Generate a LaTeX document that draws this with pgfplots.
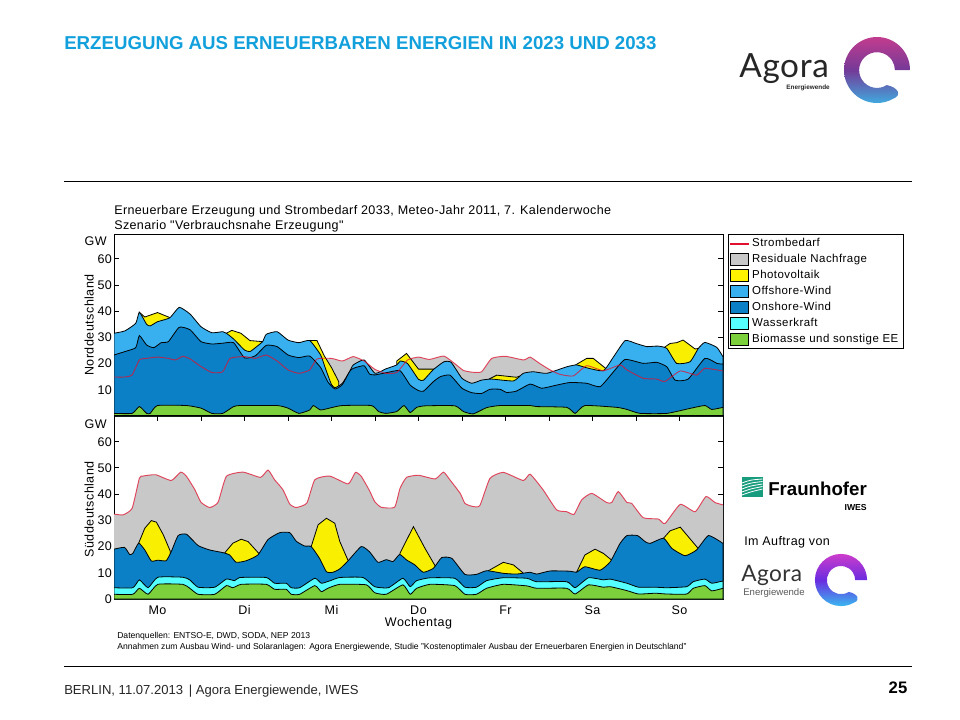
\documentclass[border=0pt]{standalone}
\usepackage{fontspec}
\setmainfont{Liberation Sans}
\newfontfamily\cf[LetterSpace=4]{Liberation Sans}
\newfontfamily\cft[LetterSpace=3]{Liberation Sans}
\newfontfamily\lf[LetterSpace=2]{Lato}
\usepackage{pgfplots}
\pgfplotsset{compat=1.18}

\definecolor{headblue}{HTML}{12A0DC}
\definecolor{grey}{HTML}{C8C8C8}
\definecolor{pv}{HTML}{F8F000}
\definecolor{offshore}{HTML}{38B0F0}
\definecolor{onshore}{HTML}{0C80C6}
\definecolor{wasser}{HTML}{55FFFF}
\definecolor{bio}{HTML}{7CD03C}
\definecolor{demand}{HTML}{E0102E}
\definecolor{fhgreen}{HTML}{179C7D}

\newcommand{\lgbox}[1]{\addlegendimage{legend image code/.code={\draw[fill=#1,draw=black,line width=0.75pt] (0pt,-4.5pt) rectangle (13.5pt,4.5pt);}}}

\pgfplotsset{panel/.style={
    scale only axis,
    width=456.75pt,
    xmin=0, xmax=168,
    ymin=0,
    axis line style={line width=0.75pt},
    tick style={black,line width=0.75pt,major tick length=3.75pt},
    tick align=inside,
    ytick pos=both,
    ytick={10,20,...,60},
    ticklabel style={font=\cf\fontsize{9.4pt}{11pt}\selectfont},
    /pgf/number format/assume math mode=true,
    yticklabel style={xshift=2pt},
    label style={font=\cf\fontsize{9.4pt}{11pt}\selectfont},
},
    pvarea/.style={fill=#1,draw=black,line width=0.6pt,forget plot},
    stackarea/.style={smooth,tension=0.3,fill=#1,draw=black,line width=0.6pt,forget plot},
    resid/.style={smooth,tension=0.3,fill=grey,draw=none,forget plot},
    dem/.style={smooth,tension=0.3,color=demand,opacity=0.75,line width=0.7pt,forget plot},
}

\begin{document}
\begin{tikzpicture}
\path[use as bounding box] (0,0) rectangle (720pt,-540pt);

% Norddeutschland
\begin{axis}[panel,
    at={(85.5pt,-312pt)}, anchor=south west,
    height=136.5pt, ymax=69.5,
    xtick=\empty,
    ylabel={Norddeutschland},
    y label style={at={(axis description cs:-0.041,0.5)},anchor=center},
    legend style={at={(1.0082,1)},anchor=north west,draw=black,line width=0.75pt,
        inner xsep=1.5pt,inner ysep=1pt,row sep=0.25pt,
        font=\cf\fontsize{8.6pt}{10pt}\selectfont,
        cells={anchor=west},/tikz/every even column/.append style={column sep=1pt}},
]
\addplot[resid] coordinates {
 (0,14.9)(3,14.9)(5,15.7)(7,21.4)(9,22)(12,22.5)(15,22)(17,21.4)(19,22.8)(21,21.8)(24,18.9)(27,16.6)(30,16.9)(32,22)(36,22.7)(39,22)(42,23.3)(45,21)(48,17.6)(51,16.3)(54,17.6)(56,21.8)(60,22)(63,21)(66,22.7)(69,21)(72,17.8)(75,16.3)(78,16.6)(81,21.4)(84,22.5)(87,21.6)(91,22.9)(94,20)(96.4,17.4)(99,16.7)(101.4,16.9)(104.2,22)(108,22.8)(113,21.4)(114.8,22.5)(117.5,20)(120.3,17.6)(123,15.9)(126.7,15.3)(130.4,19.2)(135,17.3)(139.6,19.5)(141.5,17.6)(146,14.4)(149.7,14.1)(152,13.2)(156.2,17.2)(160.7,15.6)(163,18.2)(168,17.2)
} \closedcycle;
\addplot[pvarea=pv] coordinates {
 (7,0)(7,39.6)(8.5,37.8)(12,39.5)(15.4,37.6)(15.4,0)
 (31,0)(31,31.6)(32.5,32.7)(35,31.6)(37.5,28.8)(41,28.4)(41,0)
 (54,0)(54,28.8)(56,28.8)(58,23)(60,18.5)(62,13.1)(62,0)
 (78,0)(78,21)(80.7,23.9)(84,17.9)(88.6,17.9)(88.6,0)
 (103.3,0)(103.3,14)(105.6,15.6)(111,14.8)(112.5,15.5)(112.5,0)
 (127.2,0)(127.2,19.4)(130.4,22)(132.2,22)(135.9,17.9)(136,0)
 (151.6,0)(151.6,26)(153.4,27.7)(155.2,28)(157,29)(160.3,25.6)(161.2,25.8)(161.2,0)
} \closedcycle;
\addplot[stackarea=offshore] coordinates {
 (0,31.6)(3,32.5)(6,35.4)(7,39.6)(9,35)(10,34.4)(12,36)(15.4,37.5)(18,41.5)(21,38.9)(24,34.1)(27,31.8)(30,32.2)(31,31.6)(33,29.4)(36,25.2)(37.5,24.6)(39,26.1)(41,28.4)(42,31.2)(45,32.2)(48,29)(51,28)(54,28.8)(57,23.3)(58.5,17.5)(60,12)(61,10.8)(63,12.5)(65,17)(66,19.5)(69,21.4)(72,16.3)(75,18)(78,19.5)(79,21)(81,20)(84,14)(85.4,13.7)(88,17.6)(91,20.7)(93,20.5)(96,14.4)(98.7,12.5)(101.4,13.7)(104.2,14.1)(110.2,13.4)(112.9,16.3)(115.7,16.9)(119.4,16.3)(124.9,18.8)(127.6,19.5)(130.4,18.4)(135,17.3)(137.8,22.6)(141,28.8)(144,27.7)(147,26.5)(150,26.7)(152.5,25.8)(155.2,20.1)(158.9,20.7)(161.2,25.8)(163,28.1)(166.3,26.2)(168,22.6)
} \closedcycle;
\addplot[stackarea=onshore] coordinates {
 (0,23.3)(3,24.6)(6,26.1)(7,30.7)(9,27.1)(11,26.1)(13,28)(15,28.4)(18,33.9)(21,32.9)(24,28.4)(27,27.5)(30,27.8)(33,28)(36,22.2)(39,23)(42,27)(45,26.5)(48,23.3)(51,22.3)(54,22.9)(57,18.5)(59,13)(61,10.3)(63,12)(65,17)(66,18.2)(69,19.2)(70.5,16)(72,15.7)(75,16.5)(78.9,17.3)(81.7,11.8)(84,9.7)(85.4,9.5)(88.1,13.1)(90,15)(92.7,15.6)(96,10.6)(98.7,8.9)(101.4,8.6)(103.7,10.2)(106.5,10.2)(108.3,9)(111,9.5)(114.8,12.2)(118,10.6)(122.1,11.8)(125.8,12.8)(130.4,12.5)(134.1,11.2)(137.8,16.9)(141,21.6)(146,20.1)(149.7,20.5)(152.5,18.8)(154.8,13.7)(158.4,14.1)(163,22)(166.3,20.1)(168,19.8)
} \closedcycle;
\addplot[stackarea=bio] coordinates {
 (0,1)(5,1)(7,3.6)(9,1)(10,1)(12,4)(20,4)(24,3)(27,1)(30,1)(33,3.6)(35,4)(45,4)(48,3)(51,1)(54,2.3)(55,4)(57,2.3)(60,3.2)(63,4)(71,4)(73,1.7)(75,1)(78,1.7)(80,4)(81.7,1.3)(83.5,3.3)(86,3.9)(94,3.9)(96.4,1.7)(99.1,0.8)(102.8,3.2)(106.5,4)(114.8,4)(116.6,3.6)(124.9,3.3)(127.2,1)(129.9,4)(138.7,3.3)(141.5,2.5)(145.1,1)(152.5,1)(158.9,2.9)(163,4)(164.9,2.5)(168,3.3)
} \closedcycle;
\addplot[dem] coordinates {
 (0,14.9)(3,14.9)(5,15.7)(7,21.4)(9,22)(12,22.5)(15,22)(17,21.4)(19,22.8)(21,21.8)(24,18.9)(27,16.6)(30,16.9)(32,22)(36,22.7)(39,22)(42,23.3)(45,21)(48,17.6)(51,16.3)(54,17.6)(56,21.8)(60,22)(63,21)(66,22.7)(69,21)(72,17.8)(75,16.3)(78,16.6)(81,21.4)(84,22.5)(87,21.6)(91,22.9)(94,20)(96.4,17.4)(99,16.7)(101.4,16.9)(104.2,22)(108,22.8)(113,21.4)(114.8,22.5)(117.5,20)(120.3,17.6)(123,15.9)(126.7,15.3)(130.4,19.2)(135,17.3)(139.6,19.5)(141.5,17.6)(146,14.4)(149.7,14.1)(152,13.2)(156.2,17.2)(160.7,15.6)(163,18.2)(168,17.2)
};
\addlegendimage{legend image code/.code={\fill[demand] (0pt,-0.45pt) rectangle (13.5pt,0.45pt);}}
\addlegendentry{Strombedarf}
\lgbox{grey}\addlegendentry{Residuale Nachfrage}
\lgbox{yellow}\addlegendentry{Photovoltaik}
\lgbox{offshore}\addlegendentry{Offshore-Wind}
\lgbox{onshore}\addlegendentry{Onshore-Wind}
\lgbox{wasser}\addlegendentry{Wasserkraft}
\lgbox{bio}\addlegendentry{Biomasse und sonstige EE}
\end{axis}

% Sueddeutschland
\begin{axis}[panel,
    at={(85.5pt,-449.25pt)}, anchor=south west,
    height=137.25pt, ymax=69.8,
    xtick={12,24,...,156},
    xticklabels={Mo,,Di,,Mi,,Do,,Fr,,Sa,,So},
    x tick label style={text height=6.8pt,text depth=0pt,yshift=-1pt},
    xtick pos=both,
    ytick={0,10,...,60},
    ylabel={Süddeutschland},
    y label style={at={(axis description cs:-0.041,0.489)},anchor=center},
    xlabel={Wochentag},
    x label style={at={(axis description cs:0.5,-0.133)},anchor=center},
]
\addplot[resid] coordinates {
 (0,32.4)(2.5,32.1)(5,34.6)(7,46.1)(8,46.9)(11.5,47.4)(15.8,45.2)(18.4,48.4)(20,46.8)(22.3,41.7)(24,36.9)(26.4,34.9)(28.7,36.9)(31,46.8)(35.6,48.4)(40.4,46.4)(42.5,49.2)(44.3,45.5)(46.6,41.7)(48.5,36.2)(50.3,34.9)(53.2,36.6)(55.4,45.5)(59.5,46.9)(64.6,43.9)(66.6,48.3)(68.2,46.8)(70.5,41.3)(71.9,37.2)(73.7,35)(77.4,35)(78.9,42.2)(80.7,46.4)(84,47.2)(88.6,45.8)(90.9,48.4)(92.7,45.4)(95.5,40.3)(96.8,36.5)(98.7,35.4)(100.9,35.6)(103.7,46)(107.4,48.3)(112.9,45.2)(114.8,47.6)(118.4,41.6)(122.1,34)(124.9,33.3)(126.9,32.3)(129,37.8)(131.8,40.3)(135.9,36.8)(137.3,36.8)(139.1,41)(141.5,36.8)(142.8,36.5)(146,31)(150.2,30.5)(152,28.8)(156.2,36.1)(160.3,33.3)(163.3,39.1)(165.8,36.8)(168,35.9)
} \closedcycle;
\addplot[pvarea=pv] coordinates {
 (6.8,0)(6.8,21.3)(8.5,27)(10.3,29.9)(11.7,29.3)(13.6,24.5)(15.5,18.3)(15.5,0)
 (30.5,0)(30.5,17.5)(32.8,21.3)(35.1,22.8)(37,21.9)(40.2,17)(40.2,0)
 (54.4,0)(54.4,20)(56.3,28.3)(58.6,30.8)(60.9,28.9)(62.3,21.9)(64.6,14.6)(64.6,0)
 (78.9,0)(78.9,17.5)(82.6,27.6)(85.8,19.3)(88.6,12.6)(88.6,0)
 (103.3,0)(103.3,10.8)(107.4,14)(110.2,13)(112.8,10)(112.8,0)
 (127.6,0)(127.6,10.2)(129.9,16.8)(132.7,19)(135,17.4)(137.3,14.8)(137.3,0)
 (151.6,0)(151.6,23.2)(153.4,26)(156.2,27.4)(158.4,23.8)(161.2,19.2)(161.2,0)
} \closedcycle;
\addplot[stackarea=onshore] coordinates {
 (0,19)(2.9,19.7)(4.3,17)(5.2,17.4)(6.8,21.3)(8.5,18.7)(10.3,14.5)(12.1,14.8)(14.4,14.6)(15.8,18.1)(17.7,24.2)(20,24.7)(23.2,20.4)(26.4,18.7)(30,17.7)(31.9,16.8)(33.7,14)(36.5,14.6)(39.7,16.8)(42.5,22.7)(45.7,25.3)(48.5,25.3)(50.3,22)(52.6,20.2)(54.4,20)(56.7,15.5)(58.6,10.4)(60.4,10.2)(62.3,11.5)(64.6,14.6)(68.2,20)(70.5,18)(72.8,14)(75.1,15)(77,14.3)(78.8,17)(80.7,14.9)(83,13)(85.3,10.2)(88.1,11.7)(90.4,15.8)(93.2,15.5)(96.8,9.4)(100,9.4)(102.8,10.8)(107.4,9.8)(111,9.5)(114.8,10.2)(116.6,9.5)(120.3,10.7)(125.8,10.6)(127.6,10.2)(129.9,12.3)(134.1,11)(136.9,14.2)(139.6,21.2)(141.5,24.2)(144.4,24.2)(146.5,21.9)(147.9,21.2)(151.6,23.2)(153.9,19.3)(157.5,16.5)(160.7,18.7)(164,24.2)(168,21.2)
} \closedcycle;
\addplot[stackarea=wasser] coordinates {
 (0,4.3)(5.2,4.3)(7,7.3)(9.4,4.3)(12.1,8.3)(19,8.3)(20.9,7.3)(23.2,4.5)(27.8,4.5)(31,7.6)(33.3,7)(34.7,8.2)(42,8.2)(44.3,6)(47.5,6)(48.9,4.3)(51.2,4.3)(55.4,7.9)(57.2,6)(59.5,6.9)(62.3,8.2)(68.7,8.2)(71.9,4.7)(75.7,4.3)(79.7,7.9)(81.7,4.7)(83.5,7)(87.2,8.1)(94,7.9)(96.8,4.5)(100,4.5)(102.8,7)(107.4,8.1)(113.9,7.9)(116.6,6.6)(124.9,6.6)(127.2,4.3)(130.9,8.1)(135,7.3)(136.9,7.6)(141.5,6)(144.7,4.5)(149.3,4.5)(152.5,4.3)(158,4.7)(159.8,6.6)(163,7.6)(164.9,6)(168,6.9)
} \closedcycle;
\addplot[stackarea=bio] coordinates {
 (0,1.8)(5.2,1.8)(7,4.1)(9.4,1.8)(12.1,5.6)(19,5.6)(20.9,4.1)(23.2,1.8)(27.8,1.8)(31,5.1)(32.8,4.3)(35.1,5.6)(42,5.6)(44.3,3.7)(47.5,3.7)(48.9,1.8)(51.2,1.8)(55.4,5.1)(57.2,2.8)(59,4.1)(62.3,5.6)(69.6,5.4)(71.9,2.4)(75.1,1.8)(79.7,5.4)(81.7,1.8)(83.5,4.1)(87.2,5.6)(94,5.1)(96.8,1.8)(100,1.8)(102.8,4.1)(107.4,5.6)(113.9,5)(116.6,4.1)(124.9,4.1)(127.2,1.9)(130.9,5.4)(135,4.5)(136.9,4.7)(141.5,3.2)(144.7,1.9)(149.3,2.2)(152.5,1.9)(158,1.9)(159.8,4.1)(163,5.1)(164.9,3.1)(168,4.1)
} \closedcycle;
\addplot[dem] coordinates {
 (0,32.4)(2.5,32.1)(5,34.6)(7,46.1)(8,46.9)(11.5,47.4)(15.8,45.2)(18.4,48.4)(20,46.8)(22.3,41.7)(24,36.9)(26.4,34.9)(28.7,36.9)(31,46.8)(35.6,48.4)(40.4,46.4)(42.5,49.2)(44.3,45.5)(46.6,41.7)(48.5,36.2)(50.3,34.9)(53.2,36.6)(55.4,45.5)(59.5,46.9)(64.6,43.9)(66.6,48.3)(68.2,46.8)(70.5,41.3)(71.9,37.2)(73.7,35)(77.4,35)(78.9,42.2)(80.7,46.4)(84,47.2)(88.6,45.8)(90.9,48.4)(92.7,45.4)(95.5,40.3)(96.8,36.5)(98.7,35.4)(100.9,35.6)(103.7,46)(107.4,48.3)(112.9,45.2)(114.8,47.6)(118.4,41.6)(122.1,34)(124.9,33.3)(126.9,32.3)(129,37.8)(131.8,40.3)(135.9,36.8)(137.3,36.8)(139.1,41)(141.5,36.8)(142.8,36.5)(146,31)(150.2,30.5)(152,28.8)(156.2,36.1)(160.3,33.3)(163.3,39.1)(165.8,36.8)(168,35.9)
};
\end{axis}

% slide furniture, in reference pixels
\begin{scope}[x=0.75pt,y=-0.75pt]
\node[anchor=base west,inner sep=0,text=headblue,font=\bfseries\fontsize{14pt}{16pt}\selectfont] at (64,50) {ERZEUGUNG AUS ERNEUERBAREN ENERGIEN IN 2023 UND 2033};
\draw[black,line width=0.75pt] (64,182) -- (912,182);
\draw[black,line width=0.75pt] (64,666) -- (912,666);
\node[anchor=base west,inner sep=0,text=black!85,font=\fontsize{9.8pt}{11pt}\selectfont] at (64,694) {BERLIN, 11.07.2013 \,| Agora Energiewende, IWES};
\node[anchor=base,inner sep=0,font=\bfseries\fontsize{12.5pt}{14pt}\selectfont] at (898,693) {25};

\node[anchor=base west,inner sep=0,font=\cft\fontsize{9.4pt}{11pt}\selectfont] at (114,215) {Erneuerbare Erzeugung und Strombedarf 2033, Meteo-Jahr 2011, 7. Kalenderwoche};
\node[anchor=base west,inner sep=0,font=\cft\fontsize{9.4pt}{11pt}\selectfont] at (114,230) {Szenario "Verbrauchsnahe Erzeugung"};
\node[anchor=base east,inner sep=0,font=\cf\fontsize{9.4pt}{11pt}\selectfont] at (107,246) {GW};
\node[anchor=base east,inner sep=0,font=\cf\fontsize{9.4pt}{11pt}\selectfont] at (107,428) {GW};

\node[anchor=base west,inner sep=0,font=\fontsize{6.45pt}{8pt}\selectfont] at (117,638) {Datenquellen: ENTSO-E, DWD, SODA, NEP 2013};
\node[anchor=base west,inner sep=0,font=\fontsize{6.45pt}{8pt}\selectfont] at (117,649) {Annahmen zum Ausbau Wind- und Solaranlagen: Agora Energiewende, Studie "Kostenoptimaler Ausbau der Erneuerbaren Energien in Deutschland"};

% Agora oben
\node[anchor=base west,inner sep=0,text=black!85,font=\lf\fontsize{25pt}{30pt}\selectfont] at (739,78) {Agora};
\node[anchor=base east,inner sep=0,text=black!85,font=\bfseries\fontsize{4.8pt}{6pt}\selectfont] at (830,90) {Energiewende};

% Fraunhofer
\fill[fhgreen] (742,477) rectangle (762.5,497);
\foreach \a/\b in {480/479,483/481.5,486/484,489/486.5,492/489}
  \draw[white,line width=0.6pt] (742,\a+3) .. controls (750,\a) .. (762.5,\b);
\node[anchor=base west,inner sep=0,font=\bfseries\fontsize{14pt}{18pt}\selectfont] at (768,495) {Fraunhofer};
\node[anchor=base east,inner sep=0,font=\bfseries\fontsize{6.5pt}{8pt}\selectfont] at (867,510) {IWES};

\node[anchor=base west,inner sep=0,font=\cft\fontsize{9.4pt}{11pt}\selectfont] at (744,545) {Im Auftrag von};

% Agora unten
\node[anchor=base west,inner sep=0,text=black!80,font=\lf\fontsize{17pt}{22pt}\selectfont] at (741,581) {Agora};
\node[anchor=base west,inner sep=0,text=black!65,font=\fontsize{7.2pt}{9pt}\selectfont] at (743,595) {Energiewende};
\end{scope}

% Ringe
\definecolor{ringa}{HTML}{C23C8E}
\definecolor{ringb}{HTML}{743A98}
\definecolor{ringc}{HTML}{40A9DE}
\definecolor{ringd}{HTML}{CC3CCC}
\definecolor{ringe}{HTML}{6A2CE0}
\definecolor{ringf}{HTML}{3AB8F0}
\begin{scope}[shift={(657.75pt,-52.5pt)}]
\shade[shading angle=-30,top color=ringa,bottom color=ringc,middle color=ringb]
 (24.75pt,0pt) arc[start angle=0,end angle=299,radius=24.75pt]
 .. controls (19pt,-19pt) and (16pt,-13pt) .. (7.3pt,-11.3pt)
 arc[start angle=303,end angle=0,radius=13.4pt] -- cycle;
\end{scope}
\begin{scope}[shift={(630.75pt,-435pt)},scale=0.79]
\shade[shading angle=-30,top color=ringd,bottom color=ringf,middle color=ringe]
 (24.75pt,0pt) arc[start angle=0,end angle=299,radius=24.75pt]
 .. controls (19pt,-19pt) and (16pt,-13pt) .. (7.3pt,-11.3pt)
 arc[start angle=303,end angle=0,radius=13.4pt] -- cycle;
\end{scope}
\end{tikzpicture}
\end{document}
